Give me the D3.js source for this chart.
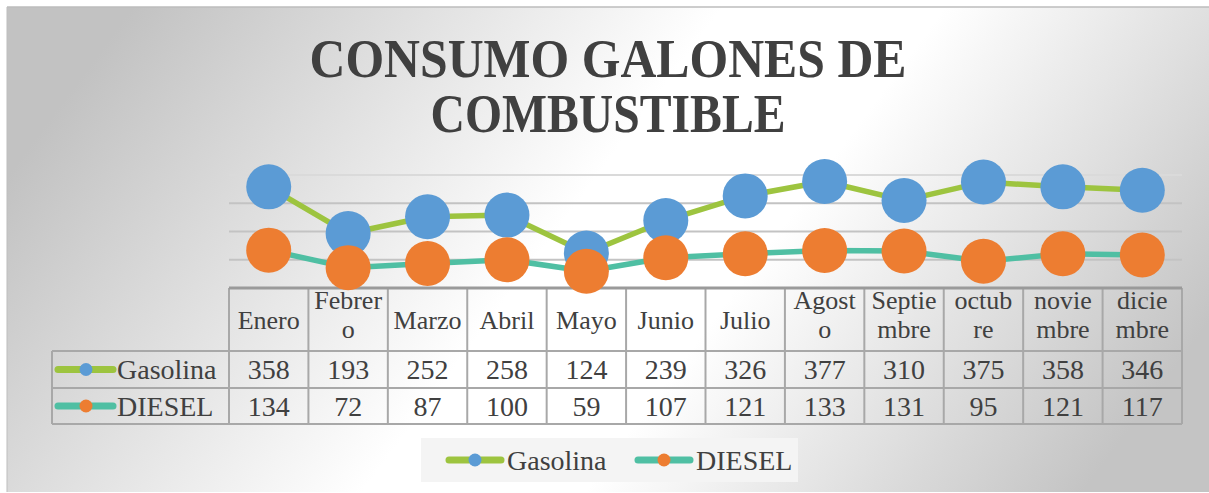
<!DOCTYPE html>
<html><head><meta charset="utf-8">
<script src="https://cdn.jsdelivr.net/npm/d3@7"></script>
<style>html,body{margin:0;padding:0;background:#fff;overflow:hidden}</style>
</head><body>
<svg id="c" width="1209" height="493"></svg>
<script>
const months = ["Enero","Febrero","Marzo","Abril","Mayo","Junio","Julio","Agosto","Septiembre","octubre","noviembre","diciembre"];
const headerLines = [["Enero"],["Febrer","o"],["Marzo"],["Abril"],["Mayo"],["Junio"],["Julio"],["Agost","o"],["Septie","mbre"],["octub","re"],["novie","mbre"],["dicie","mbre"]];
const gasolina = [358,193,252,258,124,239,326,377,310,375,358,346];
const diesel = [134,72,87,100,59,107,121,133,131,95,121,117];
const seriesNames = ["Gasolina","DIESEL"];
const yTicks = [0,100,200,300,400];
const titleLines = ["CONSUMO GALONES DE","COMBUSTIBLE"];

const series = [
  {name: seriesNames[0], values: gasolina, line: "#9DC43F", marker: "#5B9BD5"},
  {name: seriesNames[1], values: diesel, line: "#4FBFA3", marker: "#ED7D31"}
];

const svg = d3.select("#c");
const defs = svg.append("defs");
const g = defs.append("linearGradient").attr("id","bg").attr("x1","0").attr("y1","0.35").attr("x2","1").attr("y2","0.65");
g.append("stop").attr("offset","0").attr("stop-color","#c2c2c2");
g.append("stop").attr("offset","0.45").attr("stop-color","#ffffff");
g.append("stop").attr("offset","0.62").attr("stop-color","#ffffff");
g.append("stop").attr("offset","1").attr("stop-color","#c4c4c4");

svg.append("rect").attr("x",7).attr("y",7).attr("width",1202).attr("height",485).attr("fill","url(#bg)");
svg.append("line").attr("x1",7).attr("x2",1209).attr("y1",7).attr("y2",7).attr("stroke","#bdbdbd").attr("stroke-width",1.5);
svg.append("line").attr("x1",7).attr("x2",7).attr("y1",7).attr("y2",492).attr("stroke","#bdbdbd").attr("stroke-width",1);

// title
const title = svg.append("text").attr("text-anchor","middle").attr("fill","#404040")
  .style("font-family","'Liberation Serif','DejaVu Serif',serif").style("font-weight","bold").style("font-size","54px");
const tlen = [597, 355];
titleLines.forEach((t,i)=>{
  title.append("tspan").attr("x",608).attr("y",77 + i*55).attr("textLength",tlen[i]).attr("lengthAdjust","spacingAndGlyphs").text(t);
});

const x = d3.scaleBand().domain(months).range([229,1182]);
const y = d3.scaleLinear().domain([0,400]).range([288,175]);

// gridlines
svg.append("g").selectAll("line").data(yTicks.filter(d=>d>0)).join("line")
  .attr("x1",229).attr("x2",1182).attr("y1",d=>y(d)).attr("y2",d=>y(d))
  .attr("stroke",d=> d===400 ? "#dadada" : "#c3c3c3").attr("stroke-width",2);

// table
const rowTop = [288, 351, 388, 424];
const tableLeft = 52;
const font = "'Liberation Serif','Times New Roman',serif";
const tbl = svg.append("g").attr("fill","none").attr("stroke","#a8a8a8").attr("stroke-width",2);
const bounds = months.map(m=>x(m)).concat([x.range()[1]]);
tbl.selectAll("line.v").data(bounds).join("line").attr("class","v")
  .attr("x1",d=>d).attr("x2",d=>d).attr("y1",rowTop[0]).attr("y2",rowTop[3]);
tbl.append("line").attr("x1",tableLeft).attr("x2",tableLeft).attr("y1",rowTop[1]).attr("y2",rowTop[3]);
tbl.append("line").attr("x1",tableLeft).attr("x2",1182).attr("y1",rowTop[1]).attr("y2",rowTop[1]);
tbl.append("line").attr("x1",tableLeft).attr("x2",1182).attr("y1",rowTop[2]).attr("y2",rowTop[2]);
tbl.append("line").attr("x1",tableLeft).attr("x2",1182).attr("y1",rowTop[3]).attr("y2",rowTop[3]);
tbl.append("line").attr("x1",229).attr("x2",1182).attr("y1",rowTop[0]).attr("y2",rowTop[0]).attr("stroke","#9a9a9a").attr("stroke-width",3);

// header labels
const hdr = svg.append("g").attr("fill","#404040").style("font-family",font).style("font-size","26px").attr("text-anchor","middle");
months.forEach((m,i)=>{
  const lines = headerLines[i];
  const cx = x(m) + x.bandwidth()/2;
  const base = lines.length===1 ? 329 : 309;
  lines.forEach((l,j)=> hdr.append("text").attr("x",cx).attr("y",base + j*29).text(l));
});

// data rows
series.forEach((s,si)=>{
  const cy = (rowTop[si+1] + rowTop[si+2])/2;
  const rg = svg.append("g");
  rg.append("line").attr("x1",58).attr("x2",113).attr("y1",cy).attr("y2",cy)
    .attr("stroke",s.line).attr("stroke-width",7).attr("stroke-linecap","round");
  rg.append("circle").attr("cx",86).attr("cy",cy).attr("r",6.5).attr("fill",s.marker);
  rg.append("text").attr("x",117).attr("y",cy+9.5).attr("fill","#404040")
    .style("font-family",font).style("font-size","28px").text(s.name);
  rg.selectAll("text.v").data(s.values).join("text").attr("class","v")
    .attr("x",(d,i)=>x(months[i]) + x.bandwidth()/2).attr("y",cy+9.5)
    .attr("text-anchor","middle").attr("fill","#404040")
    .style("font-family",font).style("font-size","28px").text(d=>d);
});

// lines & markers
const lineGen = d3.line().x((d,i)=>x(months[i]) + x.bandwidth()/2).y(d=>y(d));
series.forEach(s=>{
  svg.append("path").datum(s.values).attr("d",lineGen).attr("fill","none")
    .attr("stroke",s.line).attr("stroke-width",5.5).attr("stroke-linejoin","round");
  svg.append("g").selectAll("circle").data(s.values).join("circle")
    .attr("cx",(d,i)=>x(months[i]) + x.bandwidth()/2).attr("cy",d=>y(d)).attr("r",22.5)
    .attr("fill",s.marker);
});

// legend
const lg = svg.append("g");
lg.append("rect").attr("x",421).attr("y",438).attr("width",377).attr("height",44).attr("fill","#f4f4f4");
const legX = [447, 636];
series.forEach((s,i)=>{
  const lx = legX[i], cy = 460;
  lg.append("line").attr("x1",lx+2).attr("x2",lx+54).attr("y1",cy).attr("y2",cy)
    .attr("stroke",s.line).attr("stroke-width",7).attr("stroke-linecap","round");
  lg.append("circle").attr("cx",lx+28).attr("cy",cy).attr("r",6.5).attr("fill",s.marker);
  lg.append("text").attr("x",lx+60).attr("y",cy+9.5).attr("fill","#404040")
    .style("font-family",font).style("font-size","28px").text(s.name);
});
</script>
</body></html>
